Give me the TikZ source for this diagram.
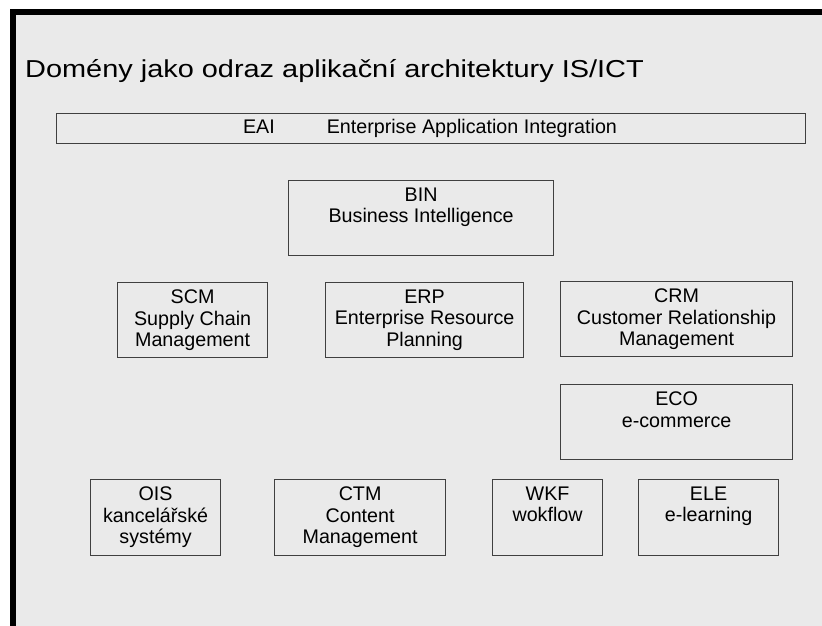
\documentclass[tikz,border=0pt]{standalone}
\usepackage{fontspec}
\setmainfont{Liberation Sans}
\usepackage{graphicx}
\usetikzlibrary{positioning}

\definecolor{slidebg}{RGB}{234,234,234}
\definecolor{boxline}{RGB}{64,64,64}

\tikzset{
    domainbox/.style={draw=boxline, line width=1.2pt, anchor=north west, inner sep=0pt},
    domaintext/.style={anchor=north, inner sep=0pt, align=center,
        font=\fontsize{19.7}{21.3}\selectfont},
}

\begin{document}
\begin{tikzpicture}[x=1pt, y=-1pt]
    \useasboundingbox (0,0) rectangle (822,626);
    % slide frame
    \fill[white] (0,0) rectangle (822,626);
    \fill[black] (10,9.5) rectangle (822,626);
    \fill[slidebg] (15.5,15.5) rectangle (822,626);

    \node[anchor=base west, inner sep=0pt, font=\fontsize{24.5}{29}\selectfont] (title) at (25,77.7)
        {\scalebox{1.18}[1]{Domény jako odraz aplikační architektury IS/ICT}};

    % integration layer
    \node[domainbox, minimum width=749pt, minimum height=30pt] (eai) at (56,113) {};
    \node[domaintext, anchor=base] (eai-t) at (430,133) {EAI\hspace{52pt}Enterprise Application Integration};

    % domains
    \node[domainbox, minimum width=265pt, minimum height=75pt] (bin) at (288,180) {};
    \node[domainbox, minimum width=150pt, minimum height=75pt] (scm) at (117,282) {};
    \node[domainbox, minimum width=198pt, minimum height=75pt] (erp) at (325,282) {};
    \node[domainbox, minimum width=232pt, minimum height=75pt] (crm) at (560,281) {};
    \node[domainbox, minimum width=232pt, minimum height=75pt] (eco) at (560,384) {};
    \node[domainbox, minimum width=130pt, minimum height=76pt] (ois) at (90,479) {};
    \node[domainbox, minimum width=171pt, minimum height=76pt] (ctm) at (274,479) {};
    \node[domainbox, minimum width=110pt, minimum height=76pt] (wkf) at (492,479) {};
    \node[domainbox, minimum width=140pt, minimum height=76pt] (ele) at (638,479) {};

    \node[domaintext, below=7.9pt of bin.north] (bin-t) {BIN\\Business Intelligence};
    \node[domaintext, below=7.9pt of scm.north] (scm-t) {SCM\\Supply Chain\\Management};
    \node[domaintext, below=7.9pt of erp.north] (erp-t) {ERP\\Enterprise Resource\\Planning};
    \node[domaintext, below=7.9pt of crm.north] (crm-t) {CRM\\Customer Relationship\\Management};
    \node[domaintext, below=7.9pt of eco.north] (eco-t) {ECO\\e-commerce};
    \node[domaintext, below=7.9pt of ois.north] (ois-t) {OIS\\kancelářské\\systémy};
    \node[domaintext, below=7.9pt of ctm.north] (ctm-t) {CTM\\Content\\Management};
    \node[domaintext, below=7.9pt of wkf.north] (wkf-t) {WKF\\wokflow};
    \node[domaintext, below=7.9pt of ele.north] (ele-t) {ELE\\e-learning};
\end{tikzpicture}
\end{document}
